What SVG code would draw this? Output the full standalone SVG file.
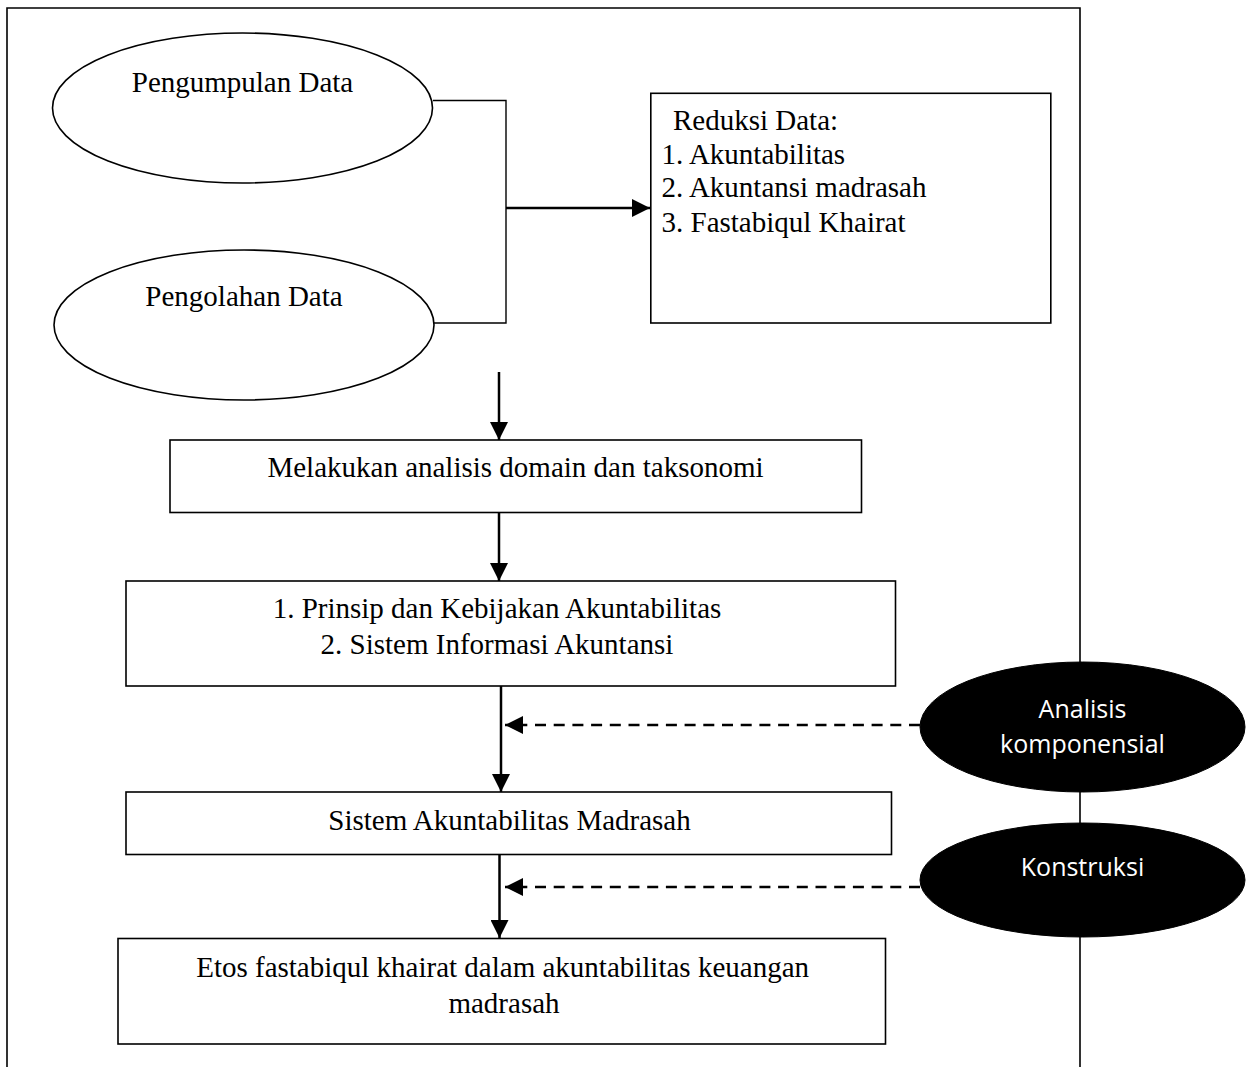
<svg xmlns="http://www.w3.org/2000/svg" width="1251" height="1067" viewBox="0 0 1251 1067">
<defs>
<style>
.frame{fill:none;stroke:#000;stroke-width:1.6}
.box{fill:#fff;stroke:#000;stroke-width:1.6}
.ell{fill:#fff;stroke:#000;stroke-width:1.6}
.dark{fill:#000;stroke:#000;stroke-width:1}
.t{font-family:"Liberation Serif","Times New Roman",serif;font-size:29px;fill:#000}
.c{text-anchor:middle}
.w{font-family:"Open Sans","Noto Sans",sans-serif;font-size:25px;fill:#fff;text-anchor:middle}
.thin{fill:none;stroke:#000;stroke-width:1.4}
.arr{fill:none;stroke:#000;stroke-width:2.5}
.dash{fill:none;stroke:#000;stroke-width:2.5;stroke-dasharray:11 7.7}
</style>
<marker id="ah" markerUnits="userSpaceOnUse" markerWidth="18" markerHeight="18" viewBox="0 0 16 16" refX="16" refY="8" orient="auto">
<path d="M0,0 L16,8 L0,16 Z" fill="#000"/>
</marker>
</defs>
<rect width="1251" height="1067" fill="#fff"/>
<path class="frame" d="M7,1067 V8 H1080 V1067"/>

<g id="connectors">
<path class="thin" d="M433,100.5 H506 V323 H434"/>
<line class="arr" x1="506" y1="208" x2="650" y2="208" marker-end="url(#ah)"/>
<line class="arr" x1="499" y1="372" x2="499" y2="440" marker-end="url(#ah)"/>
<line class="arr" x1="499" y1="513" x2="499" y2="581" marker-end="url(#ah)"/>
<line class="arr" x1="501" y1="686" x2="501" y2="792" marker-end="url(#ah)"/>
<line class="arr" x1="499.5" y1="855" x2="499.5" y2="938" marker-end="url(#ah)"/>
<line class="dash" x1="920" y1="725" x2="505" y2="725" marker-end="url(#ah)"/>
<line class="dash" x1="920" y1="887" x2="505" y2="887" marker-end="url(#ah)"/>
</g>

<g id="pengumpulan">
<ellipse class="ell" cx="242.5" cy="108" rx="190" ry="75"/>
<text class="t c" x="242.5" y="92">Pengumpulan Data</text>
</g>
<g id="pengolahan">
<ellipse class="ell" cx="244" cy="325" rx="190" ry="75"/>
<text class="t c" x="244" y="306">Pengolahan Data</text>
</g>
<g id="reduksi">
<rect class="box" x="650.8" y="93.3" width="400" height="229.7"/>
<text class="t" x="673" y="130">Reduksi Data:</text>
<text class="t" x="661.5" y="164">1. Akuntabilitas</text>
<text class="t" x="661.5" y="197">2. Akuntansi madrasah</text>
<text class="t" x="661.5" y="232">3. Fastabiqul Khairat</text>
</g>
<g id="analisis-domain">
<rect class="box" x="170" y="440" width="691.5" height="72.5"/>
<text class="t c" x="515.5" y="477">Melakukan analisis domain dan taksonomi</text>
</g>
<g id="prinsip">
<rect class="box" x="126" y="581" width="769.5" height="105"/>
<text class="t c" x="497" y="618">1. Prinsip dan Kebijakan Akuntabilitas</text>
<text class="t c" x="497" y="654">2. Sistem Informasi Akuntansi</text>
</g>
<g id="sistem">
<rect class="box" x="126" y="792" width="765.5" height="62.5"/>
<text class="t c" x="509.5" y="830">Sistem Akuntabilitas Madrasah</text>
</g>
<g id="etos">
<rect class="box" x="118" y="938.5" width="767.5" height="105.5"/>
<text class="t c" x="502.6" y="977">Etos fastabiqul khairat dalam akuntabilitas keuangan</text>
<text class="t c" x="504" y="1013">madrasah</text>
</g>
<g id="analisis-komponensial">
<ellipse class="dark" cx="1082.5" cy="727" rx="162.5" ry="65"/>
<text class="w" x="1082.5" y="718">Analisis</text>
<text class="w" x="1082.5" y="753">komponensial</text>
</g>
<g id="konstruksi">
<ellipse class="dark" cx="1082.5" cy="880" rx="162.5" ry="57"/>
<text class="w" x="1082.5" y="876">Konstruksi</text>
</g>
</svg>
